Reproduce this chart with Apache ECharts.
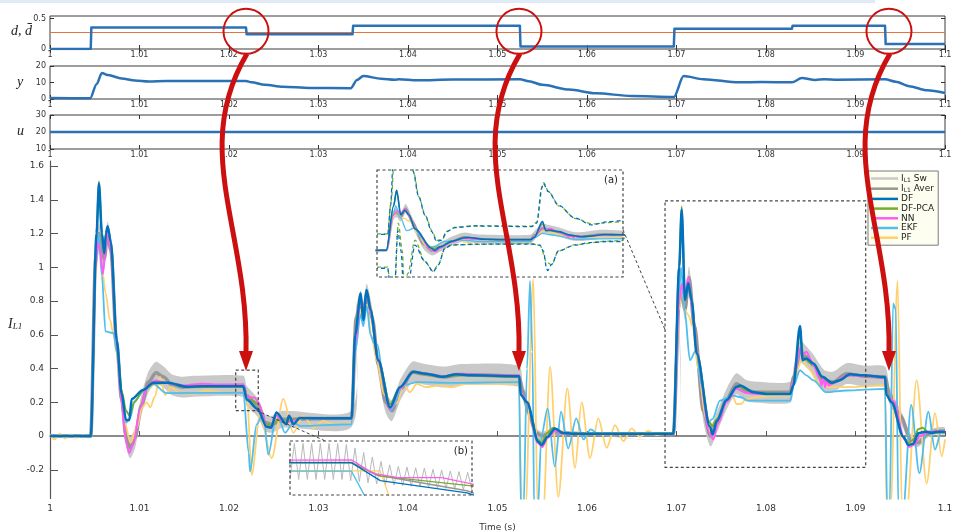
<!DOCTYPE html>
<html><head><meta charset="utf-8">
<script src="https://cdn.jsdelivr.net/npm/echarts@6/dist/echarts.min.js"></script>
<style>html,body{margin:0;padding:0;background:#fff}#c{width:953px;height:532px}</style>
</head><body><div id="c"></div>
<script>
const FF = 'DejaVu Sans';
// ---------- tick values ----------
const X_TICKS = [1, 1.01, 1.02, 1.03, 1.04, 1.05, 1.06, 1.07, 1.08, 1.09, 1.1];
const MAIN_Y_TICKS = [-0.2, 0, 0.2, 0.4, 0.6, 0.8, 1, 1.2, 1.4, 1.6];
const D_TICKS = [0, 0.5];
const Y_TICKS = [0, 10, 20];
const U_TICKS = [10, 20, 30];

// ---------- top panels ----------
const D_STEP = [[1.0,0],[1.00455,0],[1.00462,0.35],[1.0219,0.35],[1.02197,0.24],[1.0338,0.24],[1.03387,0.38],[1.0525,0.38],[1.05257,0.04],[1.0697,0.04],[1.06977,0.33],[1.0829,0.33],[1.08297,0.38],[1.0933,0.38],[1.09337,0.08],[1.1,0.08]];
const D_BAR = [[1.0,0.27],[1.1,0.27]];
const Y_OUT = [[1.0,0.6],[1.0045,0.5],[1.0052,9],[1.0058,15.8],[1.0065,14.5],[1.008,12.5],[1.0095,11.2],[1.011,10.6],[1.013,10.9],[1.0219,10.9],[1.0225,10.2],[1.024,8.6],[1.026,7.4],[1.029,6.7],[1.0336,6.5],[1.0343,11.5],[1.035,13.9],[1.037,12.3],[1.0385,11.7],[1.039,12],[1.041,11.3],[1.045,11.8],[1.0525,11.9],[1.0535,10.8],[1.055,8.6],[1.058,5.7],[1.061,3.5],[1.065,1.8],[1.0697,1.2],[1.0708,13.9],[1.073,12],[1.077,10.1],[1.0795,10.3],[1.0829,10.1],[1.084,12.7],[1.0855,11.5],[1.0865,12],[1.088,11.7],[1.0933,11.9],[1.0945,10.5],[1.096,7.8],[1.098,5.3],[1.1,3.6]];
const U_IN = [[1.0,20],[1.1,20]];

// ---------- main panel: inductor current I_L1 ----------
// I_AVER rows: [time, averaged current, half-height of the switching ripple band (I_L1 Sw)]
const I_AVER = [[1.0,0,0],[1.00455,0,0],[1.0051,1.05,0.062],[1.00547,1.2,0.062],[1.0058,1.1,0.062],[1.00607,1.05,0.062],[1.00644,1.21,0.062],[1.0068,1.1,0.062],[1.00745,0.55,0.062],[1.008,0.22,0.062],[1.0085,0.0,0.062],[1.00894,-0.07,0.062],[1.0095,-0.01,0.062],[1.0102,0.18,0.062],[1.011,0.32,0.062],[1.01184,0.375,0.065],[1.0127,0.35,0.062],[1.0136,0.305,0.062],[1.0148,0.29,0.062],[1.016,0.295,0.062],[1.0216,0.295,0.062],[1.02195,0.24,0.06],[1.0232,0.17,0.055],[1.024,0.08,0.05],[1.0248,0.07,0.05],[1.026,0.1,0.05],[1.0337,0.105,0.05],[1.0342,0.7,0.062],[1.03471,0.8,0.062],[1.035,0.72,0.062],[1.03538,0.84,0.062],[1.036,0.7,0.062],[1.0367,0.42,0.062],[1.0375,0.2,0.062],[1.0382,0.15,0.062],[1.0392,0.28,0.062],[1.0405,0.38,0.062],[1.0415,0.37,0.062],[1.044,0.35,0.062],[1.046,0.365,0.062],[1.0524,0.355,0.062],[1.0528,0.27,0.05],[1.0535,0.14,0.04],[1.0543,0.02,0.03],[1.055,0.0,0.025],[1.0558,0.02,0.02],[1.057,0.02,0.015],[1.06,0.012,0.004],[1.06965,0.012,0],[1.0703,0.8,0.062],[1.0706,0.85,0.062],[1.07095,0.75,0.062],[1.0714,0.94,0.065],[1.072,0.65,0.062],[1.073,0.15,0.062],[1.0738,0.0,0.062],[1.0745,0.08,0.062],[1.0756,0.22,0.062],[1.0767,0.31,0.062],[1.0778,0.27,0.062],[1.079,0.26,0.062],[1.0827,0.26,0.062],[1.0831,0.35,0.062],[1.0838,0.5,0.065],[1.0845,0.47,0.062],[1.0853,0.42,0.062],[1.0865,0.33,0.062],[1.0875,0.32,0.062],[1.089,0.37,0.062],[1.091,0.355,0.062],[1.0933,0.35,0.062],[1.0938,0.24,0.05],[1.095,0.12,0.04],[1.0962,-0.02,0.03],[1.097,-0.04,0.025],[1.098,0.01,0.022],[1.099,0.03,0.02],[1.1,0.03,0.02]];
const INSET_BAND_SCALE = 1.6;   // band looks thicker (relative to data) inside inset (a)
const DF = [[1.0,0],[1.00455,0],[1.0052,1.2],[1.00547,1.497],[1.0058,1.2],[1.00607,1.083],[1.00625,1.2],[1.00644,1.244],[1.0068,1.15],[1.00745,0.569],[1.008,0.253],[1.00849,0.095],[1.00886,0.095],[1.00913,0.219],[1.0104,0.273],[1.01155,0.316],[1.0132,0.316],[1.01527,0.292],[1.017,0.295],[1.0216,0.295],[1.022,0.215],[1.0232,0.16],[1.0242,0.055],[1.0247,0.05],[1.0253,0.14],[1.0264,0.07],[1.0267,0.12],[1.0272,0.07],[1.0279,0.107],[1.0337,0.105],[1.0341,0.6],[1.03471,0.846],[1.035,0.687],[1.03538,0.865],[1.0358,0.75],[1.03668,0.45],[1.038,0.17],[1.0391,0.29],[1.0406,0.381],[1.042,0.37],[1.0439,0.351],[1.0454,0.366],[1.047,0.36],[1.05244,0.355],[1.0526,0.243],[1.0533,0.2],[1.05456,-0.034],[1.05494,-0.053],[1.0556,-0.004],[1.05642,0.045],[1.0573,0.018],[1.0584,0.014],[1.06965,0.014],[1.0703,1.0],[1.07058,1.343],[1.07095,0.806],[1.07132,0.905],[1.0717,0.8],[1.07225,0.49],[1.07374,0.055],[1.07404,0.01],[1.0745,0.09],[1.0756,0.213],[1.07672,0.292],[1.0771,0.3],[1.07858,0.26],[1.08,0.25],[1.0827,0.25],[1.08305,0.3],[1.0838,0.652],[1.0841,0.45],[1.0845,0.46],[1.08529,0.43],[1.0863,0.351],[1.08734,0.316],[1.0882,0.33],[1.08939,0.366],[1.0908,0.36],[1.0933,0.35],[1.09345,0.243],[1.09404,0.2],[1.09534,-0.004],[1.0959,-0.053],[1.09646,-0.045],[1.09702,0.016],[1.09777,0.026],[1.0985,0.02],[1.0993,0.026],[1.1,0.024]];
const DF_PCA = [[1.0,0],[1.00455,0],[1.0052,1.2],[1.00547,1.51],[1.0058,1.2],[1.00607,1.09],[1.00625,1.2],[1.00644,1.24],[1.0068,1.15],[1.00745,0.57],[1.008,0.27],[1.0085,0.15],[1.0089,0.12],[1.0094,0.2],[1.0104,0.27],[1.0116,0.31],[1.0132,0.315],[1.0153,0.29],[1.0216,0.295],[1.022,0.235],[1.0233,0.19],[1.0242,0.07],[1.0248,0.06],[1.0255,0.1],[1.0265,0.09],[1.028,0.105],[1.0337,0.105],[1.0341,0.6],[1.0347,0.84],[1.035,0.7],[1.0354,0.86],[1.0358,0.75],[1.0367,0.45],[1.038,0.19],[1.0391,0.29],[1.0406,0.375],[1.042,0.365],[1.044,0.35],[1.0454,0.36],[1.0524,0.35],[1.0526,0.25],[1.0533,0.2],[1.0545,-0.02],[1.0549,-0.04],[1.0556,0.02],[1.0562,0.05],[1.0573,0.02],[1.0584,0.014],[1.06965,0.014],[1.0703,1.0],[1.07058,1.36],[1.07095,0.82],[1.07132,0.9],[1.0717,0.8],[1.07225,0.5],[1.0737,0.08],[1.074,0.06],[1.0745,0.1],[1.0756,0.21],[1.0767,0.29],[1.0771,0.29],[1.0786,0.255],[1.0827,0.25],[1.08305,0.3],[1.0838,0.6],[1.0842,0.46],[1.0853,0.42],[1.0863,0.34],[1.0873,0.31],[1.0894,0.36],[1.0933,0.345],[1.09345,0.25],[1.094,0.2],[1.0953,0.0],[1.0959,-0.04],[1.0965,-0.02],[1.097,0.04],[1.0975,0.05],[1.0982,0.02],[1.099,0.02],[1.1,0.024]];
const NN = [[1.0,0],[1.00455,0],[1.0051,1.0],[1.0053,1.15],[1.0056,1.1],[1.0059,0.96],[1.0062,1.1],[1.0064,1.22],[1.0068,1.1],[1.00745,0.55],[1.008,0.2],[1.0085,-0.04],[1.00885,-0.1],[1.0093,-0.05],[1.0101,0.17],[1.0109,0.3],[1.0118,0.33],[1.0125,0.32],[1.0135,0.31],[1.015,0.3],[1.017,0.31],[1.019,0.305],[1.0216,0.307],[1.0219,0.247],[1.02225,0.228],[1.02285,0.228],[1.0233,0.198],[1.0242,0.06],[1.0247,0.05],[1.0253,0.12],[1.0262,0.08],[1.0272,0.09],[1.028,0.105],[1.0337,0.105],[1.0341,0.55],[1.0347,0.8],[1.035,0.72],[1.0354,0.84],[1.0358,0.74],[1.0367,0.44],[1.038,0.16],[1.0391,0.28],[1.0406,0.38],[1.042,0.37],[1.044,0.355],[1.0455,0.37],[1.047,0.365],[1.0524,0.36],[1.0526,0.26],[1.0533,0.2],[1.0545,-0.04],[1.055,-0.065],[1.0556,-0.01],[1.0564,0.03],[1.0573,0.015],[1.0584,0.012],[1.06965,0.012],[1.0703,0.8],[1.0706,0.9],[1.07095,0.83],[1.0713,0.94],[1.0718,0.75],[1.07225,0.5],[1.0737,0.02],[1.0741,-0.02],[1.0746,0.07],[1.0756,0.2],[1.0767,0.28],[1.0778,0.255],[1.079,0.25],[1.0827,0.25],[1.0831,0.33],[1.0838,0.52],[1.0841,0.48],[1.0845,0.5],[1.0853,0.42],[1.086,0.34],[1.0862,0.3],[1.0864,0.34],[1.0866,0.29],[1.0868,0.33],[1.087,0.3],[1.0878,0.32],[1.089,0.36],[1.091,0.355],[1.0933,0.345],[1.0935,0.24],[1.0942,0.21],[1.0955,-0.02],[1.096,-0.065],[1.0966,-0.05],[1.0972,0.0],[1.098,0.02],[1.099,0.03],[1.1,0.025]];
const EKF = [[1.0,0],[1.00455,0],[1.0051,1.0],[1.00545,1.2],[1.0058,0.95],[1.0062,0.62],[1.0071,0.61],[1.00745,0.5],[1.008,0.25],[1.0085,0.08],[1.0089,0.1],[1.0095,0.21],[1.0105,0.27],[1.0115,0.31],[1.013,0.255],[1.0216,0.257],[1.0222,-0.1],[1.02235,-0.21],[1.0231,0.07],[1.02384,0.135],[1.02439,-0.11],[1.02533,0.14],[1.02626,0.02],[1.02719,0.08],[1.028,0.06],[1.0337,0.07],[1.0341,0.5],[1.0347,0.72],[1.035,0.65],[1.0354,0.77],[1.0358,0.6],[1.0362,0.55],[1.0366,0.54],[1.0372,0.35],[1.038,0.15],[1.0395,0.3],[1.041,0.32],[1.045,0.315],[1.0524,0.32],[1.05263,-0.45],[1.0529,-0.45],[1.0533,0.4],[1.05363,0.92],[1.0539,0.5],[1.0541,-0.45],[1.0545,-0.45],[1.0549,0.0],[1.0556,0.164],[1.0564,-0.18],[1.0571,0.144],[1.0579,-0.073],[1.0588,0.105],[1.0596,-0.02],[1.0604,0.04],[1.0612,0.015],[1.06965,0.015],[1.0703,0.85],[1.0705,1.0],[1.0709,0.75],[1.0715,0.45],[1.0722,0.51],[1.0728,0.3],[1.0735,0.08],[1.074,0.1],[1.07486,0.21],[1.0763,0.24],[1.0772,0.23],[1.078,0.21],[1.0827,0.21],[1.0831,0.3],[1.0838,0.39],[1.0845,0.36],[1.0853,0.33],[1.0867,0.26],[1.089,0.27],[1.0933,0.28],[1.09355,-0.45],[1.0938,-0.45],[1.0942,0.786],[1.0945,0.75],[1.0948,-0.45],[1.0953,-0.45],[1.09622,0.184],[1.09713,-0.22],[1.09814,0.144],[1.09888,-0.08],[1.0996,0.03],[1.1,0.02]];
const PF = [[1.0,0.01],[1.0005,-0.02],[1.0011,0.015],[1.0017,-0.015],[1.0023,0.01],[1.003,-0.01],[1.0036,0.005],[1.00455,0],[1.0051,0.95],[1.0054,1.17],[1.0058,1.0],[1.0062,0.85],[1.0067,0.687],[1.0071,0.6],[1.0074,0.5],[1.0079,0.3],[1.0083,0.09],[1.009,-0.04],[1.0097,0.05],[1.0103,0.17],[1.0108,0.2],[1.0112,0.17],[1.0117,0.233],[1.01229,0.351],[1.01285,0.243],[1.0135,0.29],[1.0145,0.255],[1.016,0.25],[1.0175,0.27],[1.019,0.26],[1.022,0.258],[1.02253,-0.23],[1.02346,0.13],[1.02477,-0.13],[1.02607,0.22],[1.02719,0.02],[1.0283,0.12],[1.02942,0.05],[1.03054,0.09],[1.0315,0.07],[1.0337,0.075],[1.0341,0.5],[1.0347,0.75],[1.035,0.68],[1.0354,0.78],[1.0359,0.6],[1.0365,0.45],[1.0373,0.25],[1.0381,0.17],[1.0388,0.2],[1.0395,0.31],[1.0402,0.26],[1.041,0.31],[1.042,0.29],[1.0435,0.3],[1.045,0.29],[1.0465,0.31],[1.0524,0.31],[1.0527,-0.45],[1.0531,-0.45],[1.054,0.93],[1.0545,-0.45],[1.0551,-0.45],[1.05587,0.41],[1.0568,-0.36],[1.0578,0.282],[1.05866,-0.19],[1.0594,0.2],[1.06034,-0.13],[1.06126,0.105],[1.0622,-0.07],[1.06313,0.065],[1.06406,-0.03],[1.06499,0.045],[1.06592,-0.005],[1.06685,0.03],[1.06779,0.005],[1.0686,0.014],[1.06965,0.014],[1.0703,0.75],[1.0706,0.9],[1.0709,0.75],[1.0713,0.72],[1.0718,0.65],[1.0724,0.4],[1.0733,0.1],[1.0739,0.0],[1.0746,0.1],[1.0755,0.2],[1.0762,0.25],[1.0767,0.19],[1.0772,0.19],[1.0778,0.22],[1.079,0.23],[1.081,0.24],[1.0827,0.24],[1.0831,0.33],[1.084,0.45],[1.0848,0.4],[1.0858,0.32],[1.087,0.29],[1.089,0.29],[1.0933,0.3],[1.09348,-0.45],[1.0939,-0.45],[1.0947,0.92],[1.0952,-0.45],[1.0957,-0.45],[1.09683,0.33],[1.09795,-0.28],[1.09888,0.136],[1.09963,-0.12],[1.1,-0.02]];

// ---------- inset (a): uncertainty bounds ----------
const DF_UP = [[1.0688,0.37],[1.06977,0.37],[1.07003,1.0],[1.0703,2.2],[1.0719,2.2],[1.07209,1.76],[1.07254,1.24],[1.07315,0.8],[1.07376,0.43],[1.07421,0.21],[1.07466,0.24],[1.07511,0.43],[1.07587,0.52],[1.07768,0.555],[1.08282,0.54],[1.08328,0.62],[1.08373,1.4],[1.08388,1.5],[1.08433,1.32],[1.08524,1.02],[1.08675,0.73],[1.08826,0.58],[1.08977,0.65],[1.09113,0.68]];
const PCA_UP = [[1.0688,0.38],[1.06977,0.38],[1.07008,1.1],[1.0704,2.2],[1.0719,2.2],[1.07215,1.72],[1.0726,1.2],[1.0732,0.78],[1.0738,0.44],[1.0742,0.23],[1.0747,0.26],[1.0752,0.44],[1.0759,0.53],[1.0777,0.56],[1.0828,0.55],[1.0833,0.64],[1.0838,1.45],[1.0839,1.52],[1.0844,1.3],[1.0853,1.0],[1.0868,0.72],[1.0883,0.6],[1.0898,0.63],[1.09113,0.66]];
const DF_LO = [[1.0688,-0.385],[1.06977,-0.385],[1.07,-0.8],[1.0704,-0.8],[1.07068,0.45],[1.07098,0.0],[1.0712,-0.8],[1.0716,-0.8],[1.07224,0.13],[1.07315,-0.24],[1.0739,-0.46],[1.07436,-0.31],[1.07496,0.06],[1.07557,0.13],[1.07768,0.15],[1.08282,0.15],[1.08358,0.13],[1.08388,0.0],[1.08418,-0.39],[1.08427,-0.44],[1.08463,-0.3],[1.08524,0.0],[1.08675,0.13],[1.08826,0.19],[1.08977,0.21],[1.09113,0.21]];
const PCA_LO = [[1.0688,-0.36],[1.06977,-0.36],[1.07,-0.8],[1.0704,-0.8],[1.07073,0.62],[1.0711,0.0],[1.07127,-0.8],[1.0716,-0.5],[1.07224,0.24],[1.07315,-0.24],[1.0739,-0.46],[1.07436,-0.3],[1.07496,0.07],[1.07557,0.14],[1.08282,0.16],[1.08358,0.12],[1.08418,-0.25],[1.08463,-0.31],[1.08524,0.0],[1.08675,0.14],[1.08977,0.22],[1.09113,0.23]];
// ---------- inset (b): switching ripple of I_L1 ----------
const SW_ZOOM = [[1.02075,0.22],[1.02081,0.38],[1.02087,0.22],[1.02093,0.38],[1.02099,0.22],[1.02105,0.38],[1.02111,0.22],[1.02117,0.38],[1.02123,0.22],[1.02129,0.38],[1.02135,0.22],[1.02141,0.38],[1.02147,0.22],[1.02153,0.375],[1.02159,0.215],[1.02165,0.36],[1.02171,0.21],[1.02177,0.34],[1.02183,0.205],[1.02189,0.32],[1.02195,0.2],[1.02201,0.3],[1.02207,0.197],[1.02213,0.285],[1.02219,0.195],[1.02225,0.278],[1.02231,0.193],[1.02237,0.275],[1.02243,0.19],[1.02249,0.272],[1.02255,0.188],[1.02261,0.27],[1.02267,0.185],[1.02273,0.265],[1.02279,0.182],[1.02285,0.262],[1.02291,0.18],[1.02297,0.258],[1.02303,0.177],[1.02309,0.255],[1.02315,0.175],[1.02321,0.252],[1.02327,0.172]];

const INSET_A_X = [1.0688, 1.0911], INSET_A_Y = [-0.58, 1.8];
const BOX_A_X = [1.06872, 1.09114], BOX_A_Y = [-0.185, 1.394];
const INSET_B_X = [1.02075, 1.02327], INSET_B_Y = [0.151, 0.391];
const EVENTS = [1.0219, 1.0524, 1.09374];

const C = {sw:'#c9c9c9', av:'#969696', df:'#0072BD', pca:'#77AC30', nn:'#FF5CF5', ekf:'#4DBEEE', pf:'#FFD06E', top:'#2a72b5', dbar:'#E8723C', red:'#CC1010'};

const chart = echarts.init(document.getElementById('c'), null, {renderer:'canvas'});

function xAx(g, pos, labels) {
  return {type:'value', gridIndex:g, position:pos, min:1, max:1.1,
    axisLine:{show:false}, splitLine:{show:false},
    axisTick:{show:true, inside:true, length:4, customValues:X_TICKS, lineStyle:{color:'#333'}},
    axisLabel:{show:labels, customValues:X_TICKS, fontSize:8, color:'#333', margin:2, fontFamily:FF}};
}
function yAx(g, pos, mn, mx, ticks, labels) {
  return {type:'value', gridIndex:g, position:pos, min:mn, max:mx,
    axisLine:{show:false}, splitLine:{show:false},
    axisTick:{show:true, inside:true, length:4, customValues:ticks, lineStyle:{color:'#333'}},
    axisLabel:{show:labels, customValues:ticks, fontSize:8, color:'#333', margin:4, fontFamily:FF}};
}
function hid(g, r) { return {type:'value', gridIndex:g, min:r[0], max:r[1], show:false}; }
function ln(name, data, color, w, xi, yi, z, extra) {
  return Object.assign({type:'line', name, data, xAxisIndex:xi, yAxisIndex:yi, z,
    symbol:'none', showSymbol:false, clip:true, silent:true,
    itemStyle:{color}, lineStyle:{color, width:w, join:'round'}}, extra || {});
}
const sm = {smooth:0.3, smoothMonotone:'x'};
// switching-ripple band: averaged current +/- ripple half-height, drawn through the axes
function band(ax, scale, z) {
  return {type:'custom', name:'I_L1 Sw', xAxisIndex:ax, yAxisIndex:ax, z, silent:true, clip:true,
    itemStyle:{color:C.sw}, data:[[I_AVER[0][0], I_AVER[0][1]]], encode:{x:0, y:1},
    renderItem:(params, api) => {
      const up = I_AVER.map(p => api.coord([p[0], p[1] + p[2] * scale]));
      const lo = I_AVER.map(p => api.coord([p[0], p[1] - p[2] * scale])).reverse();
      return {type:'polygon', shape:{points:up.concat(lo), smooth:0.25}, style:{fill:C.sw}};
    }};
}

const OB = {outerBoundsMode:'none', containLabel:false};
const gridBox = Object.assign({show:true, borderColor:'#3a3a3a', borderWidth:1, backgroundColor:'transparent'}, OB);
const option = {
  animation:false,
  backgroundColor:'#fff',
  textStyle:{fontFamily:FF},
  grid:[
    Object.assign({left:50, right:8, top:16, height:33}, gridBox),
    Object.assign({left:50, right:8, top:66, height:33}, gridBox),
    Object.assign({left:50, right:8, top:115, height:34}, gridBox),
    Object.assign({left:50, right:8, top:161, height:337.5}, OB),
    Object.assign({left:377, top:170, width:246, height:107, show:true, backgroundColor:'#fff', borderWidth:0, z:5}, OB),
    Object.assign({left:290, top:441, width:182, height:54, show:true, backgroundColor:'#fff', borderWidth:0, z:5}, OB)
  ],
  xAxis:[
    xAx(0,'bottom',true), xAx(0,'top',false),
    xAx(1,'bottom',true), xAx(1,'top',false),
    xAx(2,'bottom',true), xAx(2,'top',false),
    {type:'value', gridIndex:3, position:'bottom', min:1, max:1.1,
      name:'Time (s)', nameLocation:'middle', nameGap:25, nameTextStyle:{fontSize:9, color:'#333', fontFamily:FF},
      axisLine:{show:true, lineStyle:{color:'#666', width:1.5}}, splitLine:{show:false},
      axisTick:{show:true, inside:true, length:5, customValues:X_TICKS, lineStyle:{color:'#555'}},
      axisLabel:{customValues:X_TICKS, fontSize:9, color:'#333', margin:6, fontFamily:FF}},
    hid(4, INSET_A_X), hid(5, INSET_B_X)
  ],
  yAxis:[
    yAx(0,'left',0,0.54,D_TICKS,true), yAx(0,'right',0,0.54,D_TICKS,false),
    yAx(1,'left',0,20,Y_TICKS,true), yAx(1,'right',0,20,Y_TICKS,false),
    yAx(2,'left',10,30,U_TICKS,true), yAx(2,'right',10,30,U_TICKS,false),
    {type:'value', gridIndex:3, position:'left', min:-0.37, max:1.63,
      axisLine:{show:true, lineStyle:{color:'#555', width:1.2}}, splitLine:{show:false},
      axisTick:{show:true, inside:true, length:8, customValues:MAIN_Y_TICKS, lineStyle:{color:'#555'}},
      axisLabel:{customValues:MAIN_Y_TICKS, fontSize:9, color:'#333', margin:6, fontFamily:FF}},
    hid(4, INSET_A_Y), hid(5, INSET_B_Y)
  ],
  legend:{
    data:['I_L1 Sw','I_L1 Aver','DF','DF-PCA','NN','EKF','PF'],
    orient:'vertical', left:868, top:171, icon:'rect', itemWidth:27, itemHeight:2.5, itemGap:0.7,
    padding:[3,4,3,3], backgroundColor:'#FEFEF0', borderColor:'#7a7a7a', borderWidth:1, selectedMode:false,
    formatter: n => n === 'I_L1 Sw' ? '{t|I}{s|L1}{t| Sw}' : n === 'I_L1 Aver' ? '{t|I}{s|L1}{t| Aver}' : '{t|' + n + '}',
    textStyle:{fontSize:9, color:'#222', fontFamily:FF, padding:[0,0,0,-2],
      rich:{t:{fontSize:9, lineHeight:10, color:'#222', fontFamily:FF},
            s:{fontSize:6, lineHeight:10, color:'#222', fontFamily:FF, verticalAlign:'bottom', padding:[3,0,0,0]}}}
  },
  series:[
    // top panels
    ln('d', D_STEP, C.top, 2.5, 0, 0, 3),
    ln('dbar', D_BAR, C.dbar, 1, 0, 0, 2),
    ln('y', Y_OUT, C.top, 2.5, 2, 2, 3, sm),
    ln('u', U_IN, C.top, 2.5, 4, 4, 3),
    // main
    band(6, 1, 1),
    ln('I_L1 Aver', I_AVER, C.av, 3.5, 6, 6, 2, sm),
    ln('PF', PF, C.pf, 1.8, 6, 6, 2, sm),
    ln('EKF', EKF, C.ekf, 1.8, 6, 6, 2, sm),
    ln('DF-PCA', DF_PCA, C.pca, 2, 6, 6, 2, sm),
    ln('NN', NN, C.nn, 2, 6, 6, 2, sm),
    ln('DF', DF, C.df, 2.5, 6, 6, 2, sm),
    // inset (a)
    band(7, INSET_BAND_SCALE, 6),
    ln('I_L1 Aver', I_AVER, C.av, 2.2, 7, 7, 6, sm),
    ln('PF', PF, C.pf, 1.3, 7, 7, 6, sm),
    ln('EKF', EKF, C.ekf, 1.3, 7, 7, 6, sm),
    ln('DF-PCA', DF_PCA, C.pca, 1.3, 7, 7, 6, sm),
    ln('NN', NN, C.nn, 1.3, 7, 7, 6, sm),
    ln('DF', DF, C.df, 1.6, 7, 7, 6, sm),
    ln('DF-PCA', PCA_UP, C.pca, 1.3, 7, 7, 6, Object.assign({lineStyle:{color:C.pca, width:1.3, type:[4,3]}}, sm)),
    ln('DF-PCA', PCA_LO, C.pca, 1.3, 7, 7, 6, Object.assign({lineStyle:{color:C.pca, width:1.3, type:[4,3]}}, sm)),
    ln('DF', DF_UP, C.df, 1.3, 7, 7, 6, Object.assign({lineStyle:{color:C.df, width:1.3, type:[4,3], dashOffset:3}}, sm)),
    ln('DF', DF_LO, C.df, 1.3, 7, 7, 6, Object.assign({lineStyle:{color:C.df, width:1.3, type:[4,3], dashOffset:3}}, sm)),
    // inset (b)
    ln('I_L1 Sw', SW_ZOOM, '#b9b9b9', 1, 8, 8, 6),
    ln('I_L1 Aver', I_AVER, C.av, 1.5, 8, 8, 6),
    ln('PF', PF, C.pf, 1.3, 8, 8, 6),
    ln('EKF', EKF, C.ekf, 1.3, 8, 8, 6),
    ln('DF-PCA', DF_PCA, C.pca, 1.3, 8, 8, 6),
    ln('NN', NN, C.nn, 1.3, 8, 8, 6),
    ln('DF', DF, C.df, 1.3, 8, 8, 6)
  ]
};
chart.setOption(option);

// ---------- annotations placed through the axes ----------
const P = (a, pt) => chart.convertToPixel({xAxisIndex:a, yAxisIndex:a}, pt);
const els = [];
els.push({type:'rect', shape:{x:0, y:0, width:875, height:3}, style:{fill:'#dfeaf6'}, z:1});
// axis names
els.push({type:'text', x:11, y:31, style:{text:'d, d\u0304', font:'italic 14px "Liberation Serif"', fill:'#222', verticalAlign:'middle'}, z:30});
els.push({type:'text', x:17, y:82, style:{text:'y', font:'italic 14px "Liberation Serif"', fill:'#222', verticalAlign:'middle'}, z:30});
els.push({type:'text', x:17, y:131, style:{text:'u', font:'italic 14px "Liberation Serif"', fill:'#222', verticalAlign:'middle'}, z:30});
els.push({type:'text', x:8, y:324, style:{text:'{i|I}{s|L1}', verticalAlign:'middle',
  rich:{i:{font:'italic 14px "Liberation Serif"', fill:'#222'}, s:{font:'italic 9px "Liberation Serif"', fill:'#222', padding:[6,0,0,0]}}}, z:30});
// dashed zoom boxes and inset borders
function dashRect(p0, p1, z) {
  return {type:'rect', shape:{x:p0[0], y:p0[1], width:p1[0]-p0[0], height:p1[1]-p0[1]},
    style:{fill:null, stroke:'#444', lineWidth:1.2, lineDash:[3,2.5]}, z};
}
els.push(dashRect(P(6,[BOX_A_X[0],BOX_A_Y[1]]), P(6,[BOX_A_X[1],BOX_A_Y[0]]), 4));
els.push(dashRect(P(6,[INSET_B_X[0],INSET_B_Y[1]]), P(6,[INSET_B_X[1],INSET_B_Y[0]]), 4));
els.push(dashRect(P(7,[INSET_A_X[0],INSET_A_Y[1]]), P(7,[INSET_A_X[1],INSET_A_Y[0]]), 8));
els.push(dashRect(P(8,[INSET_B_X[0],INSET_B_Y[1]]), P(8,[INSET_B_X[1],INSET_B_Y[0]]), 8));
// connectors
function dashLine(a, b) {
  return {type:'line', shape:{x1:a[0], y1:a[1], x2:b[0], y2:b[1]}, style:{stroke:'#444', lineWidth:1, lineDash:[3,2.5]}, z:4};
}
els.push(dashLine(P(7,[INSET_A_X[1],0.47]), P(6,[BOX_A_X[0],0.63])));
els.push(dashLine(P(6,[INSET_B_X[1]-0.0002,INSET_B_Y[0]]), P(8,[1.02124,INSET_B_Y[1]])));
// inset tags
const pa = P(7,[INSET_A_X[1],INSET_A_Y[1]]);
els.push({type:'text', x:pa[0]-5, y:pa[1]+10, style:{text:'(a)', font:'10px "DejaVu Sans"', fill:'#222', align:'right', verticalAlign:'middle'}, z:9});
const pb = P(8,[INSET_B_X[1],INSET_B_Y[1]]);
els.push({type:'text', x:pb[0]-4, y:pb[1]+10, style:{text:'(b)', font:'10px "DejaVu Sans"', fill:'#222', align:'right', verticalAlign:'middle'}, z:9});
// red circles and curved arrows
EVENTS.forEach(t => {
  const c = P(0,[t,0.29]);
  const tip = P(6,[t,0.385]);
  els.push({type:'circle', shape:{cx:c[0], cy:c[1], r:22.5}, style:{fill:null, stroke:C.red, lineWidth:2}, z:20});
  const s = [c[0]+1, c[1]+22.5], e = [tip[0], tip[1]-18];
  els.push({type:'bezierCurve', shape:{x1:s[0], y1:s[1], cpx1:s[0]-57, cpy1:s[1]+96, cpx2:e[0]+3, cpy2:e[1]-122, x2:e[0], y2:e[1]},
    style:{fill:null, stroke:C.red, lineWidth:5}, z:20});
  els.push({type:'polygon', shape:{points:[[tip[0]-7,tip[1]-20],[tip[0]+7,tip[1]-20],[tip[0],tip[1]]]}, style:{fill:C.red}, z:20});
});
chart.setOption({graphic:{elements:els}});
</script></body></html>
